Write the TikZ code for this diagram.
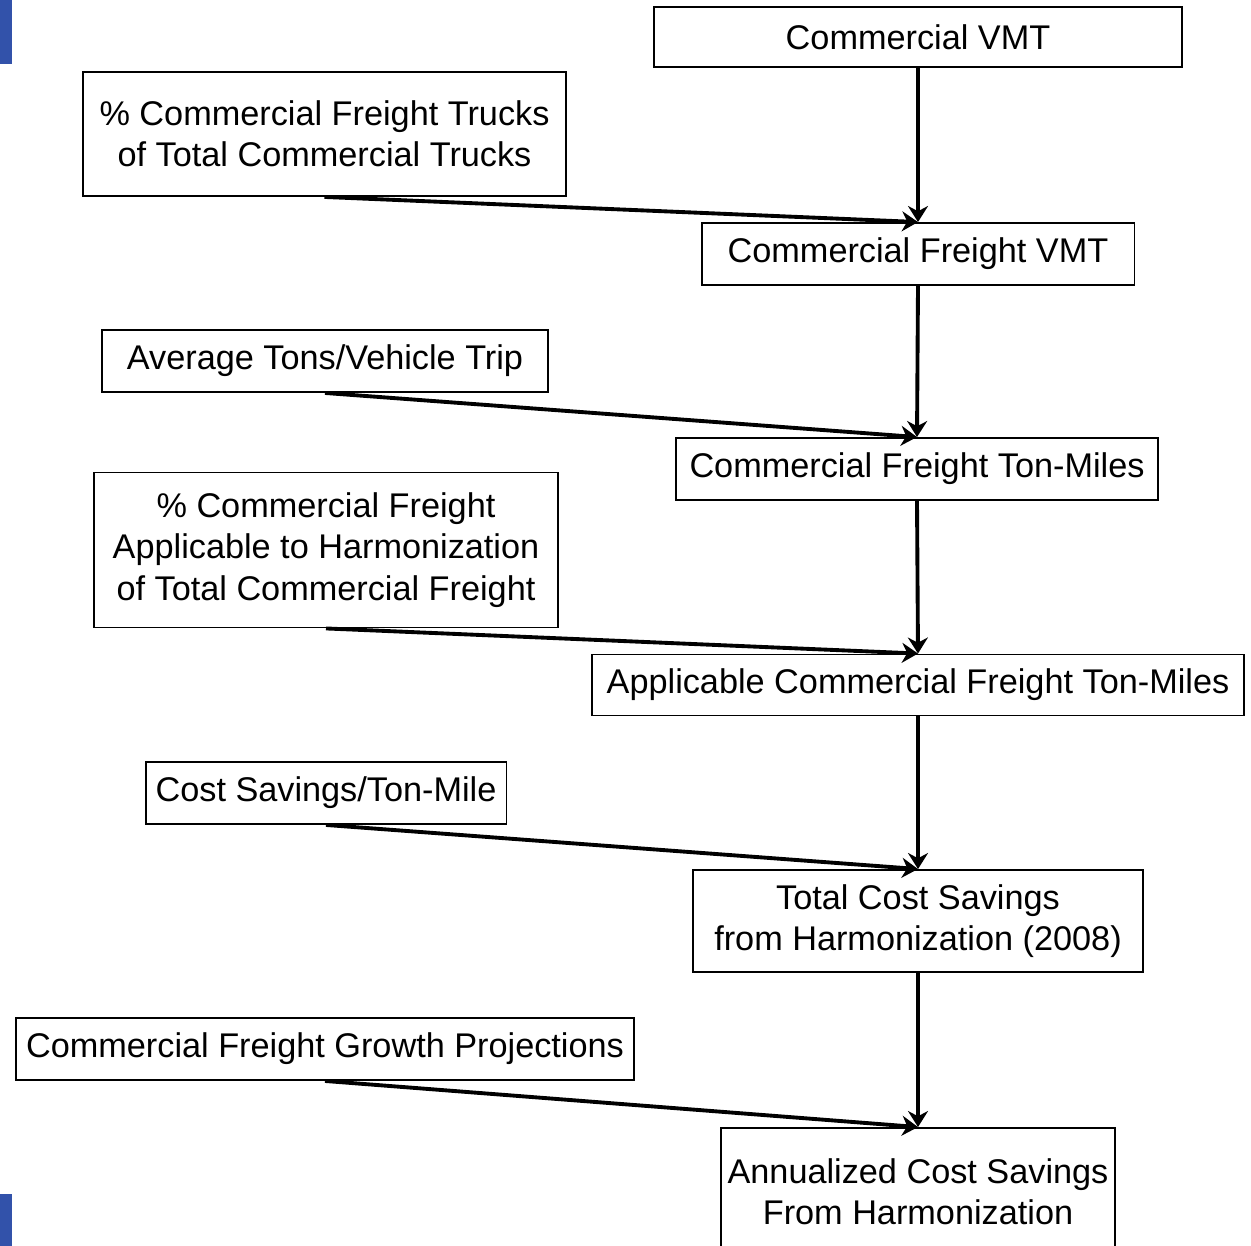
\documentclass[tikz,border=0pt]{standalone}
\usepackage{fontspec}
\setmainfont{Liberation Sans}
\usetikzlibrary{positioning, arrows.meta}
\definecolor{SlideBlue}{RGB}{50,82,170}

\begin{document}
\begin{tikzpicture}[x=0.02cm, y=-0.02cm,
    box/.style={draw, line width=1.1pt, inner sep=0pt, align=center,
      font=\fontsize{19.5}{23.5}\selectfont},
    flow/.style={line width=2.2pt, -{Stealth[length=0.32cm, width=0.4cm]}}]
  \useasboundingbox (0,0) rectangle (1251,1246);
  % slide edge marks
  \fill[SlideBlue] (0,0) rectangle (12,64);
  \fill[SlideBlue] (0,1194) rectangle (12,1246);
  % main chain
  \node[box, minimum width=10.56cm, minimum height=1.2cm] (vmt) at (918,37) {Commercial VMT};
  \node[box, minimum width=8.66cm, minimum height=1.24cm] (fvmt) at (918,254) {Commercial Freight VMT};
  \node[box, minimum width=9.64cm, minimum height=1.24cm] (ftm) at (917,469) {Commercial Freight Ton-Miles};
  \node[box, minimum width=13.06cm, minimum height=1.22cm] (aftm) at (918,685) {Applicable Commercial Freight Ton-Miles};
  \node[box, minimum width=9cm, minimum height=2.04cm] (tcs) at (918,921) {Total Cost Savings\\from Harmonization (2008)};
  \node[box, minimum width=7.88cm, minimum height=2.56cm] (acs) at (918,1192) {Annualized Cost Savings\\From Harmonization};
  % factors
  \node[box, minimum width=9.66cm, minimum height=2.48cm] (pct) at (324.5,134) {\% Commercial Freight Trucks\\of Total Commercial Trucks};
  \node[box, minimum width=8.92cm, minimum height=1.24cm] (tons) at (325,361) {Average Tons/Vehicle Trip};
  \node[box, minimum width=9.3cm, minimum height=3.1cm] (appl) at (326,550) {\% Commercial Freight\\Applicable to Harmonization\\of Total Commercial Freight};
  \node[box, minimum width=7.22cm, minimum height=1.24cm] (cost) at (326,793) {Cost Savings/Ton-Mile};
  \node[box, minimum width=12.36cm, minimum height=1.24cm] (grow) at (325,1049) {Commercial Freight Growth Projections};
  % connectors
  \draw[flow] (vmt.south) -- (fvmt.north);
  \draw[flow] (fvmt.south) -- (ftm.north);
  \draw[flow] (ftm.south) -- (aftm.north);
  \draw[flow] (aftm.south) -- (tcs.north);
  \draw[flow] (tcs.south) -- (acs.north);
  \draw[flow] (pct.south) -- (fvmt.north);
  \draw[flow] (tons.south) -- (ftm.north);
  \draw[flow] (appl.south) -- (aftm.north);
  \draw[flow] (cost.south) -- (tcs.north);
  \draw[flow] (grow.south) -- (acs.north);
\end{tikzpicture}
\end{document}
